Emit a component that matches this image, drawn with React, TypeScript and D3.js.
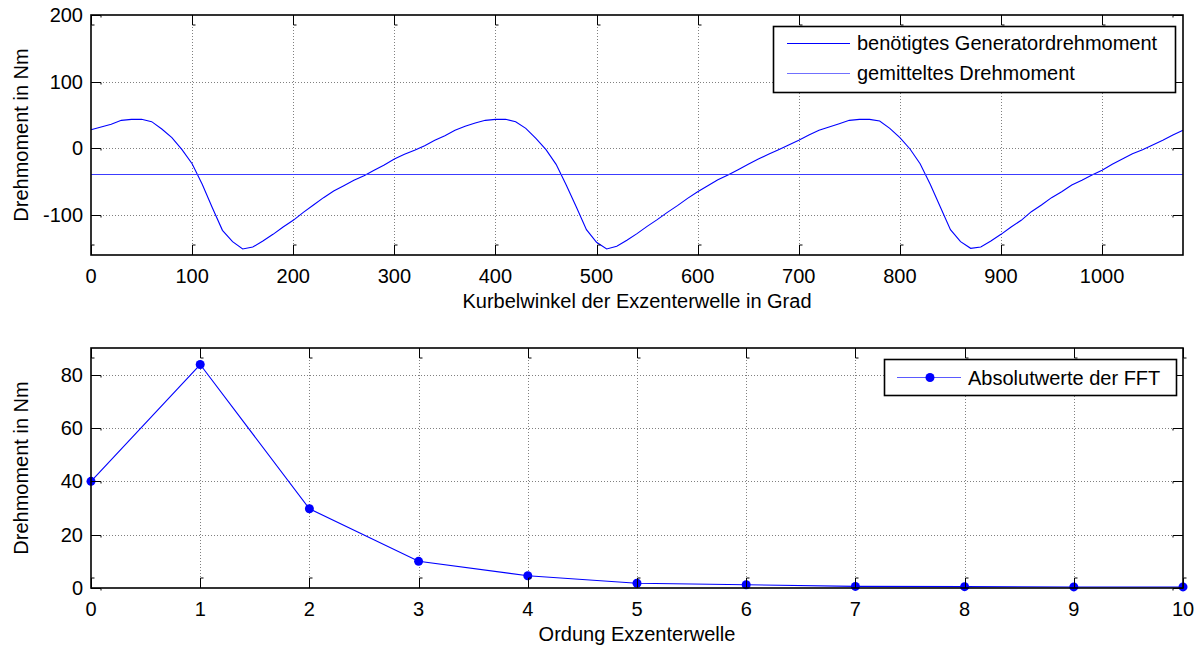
import React from "react";
import * as d3 from "d3";

// Kurbelwinkel in 10-Grad-Schritten, 0..1080
const angleStep = 10;
const torque = [
  28, 32, 36, 42, 43.5, 43.5, 40, 29, 16, -2, -23, -54, -89, -123, -140, -151, -148, -139,
  -129, -118, -108, -96, -85, -74, -64, -56, -48, -41, -33, -25, -16, -9, -3, 4, 12, 19,
  27, 33, 38, 42, 43.5, 43.5, 40, 30, 15, -2, -24, -55, -88, -122, -141, -151, -147, -138,
  -128, -117, -107, -96, -86, -75, -65, -56, -47, -40, -32, -24, -16, -9, -2, 5, 12, 20,
  27, 32, 37, 42, 43.5, 43.5, 41, 30, 16, -1, -23, -54, -88, -122, -140, -150, -148, -139,
  -129, -118, -108, -95, -85, -74, -65, -55, -48, -40, -33, -24, -16, -8, -2, 5, 12, 20, 27,
];
const meanTorque = -38;

const orders = [0, 1, 2, 3, 4, 5, 6, 7, 8, 9, 10];
const fftAbs = [40, 83.8, 29.7, 10, 4.6, 1.8, 1.2, 0.6, 0.5, 0.4, 0.4];

const topXTicks = [0, 100, 200, 300, 400, 500, 600, 700, 800, 900, 1000];
const topYTicks = [-100, 0, 100, 200];
const botXTicks = [0, 1, 2, 3, 4, 5, 6, 7, 8, 9, 10];
const botYTicks = [0, 20, 40, 60, 80];

const legendTop = ["benötigtes Generatordrehmoment", "gemitteltes Drehmoment"];
const legendBottom = "Absolutwerte der FFT";

const FONT = "'Liberation Sans', Arial, Helvetica, sans-serif";
const L = 91;
const R = 1183;

const x1 = d3.scaleLinear().domain([0, 1080]).range([L, R]);
const y1 = d3.scaleLinear().domain([-160, 200]).range([255, 15]);
const x2 = d3.scaleLinear().domain([0, 10]).range([L, R]);
const y2 = d3.scaleLinear().domain([0, 90]).range([588, 348]);

const px = (v: number) => Math.round(v) + 0.5;

function Axes({ xs, ys, xTicks, yTicks, xTitle, yTitle }: any) {
  const [t, b] = [ys.range()[1], ys.range()[0]];
  const yMid = (t + b) / 2;
  return (
    <g>
      {/* grid */}
      {xTicks
        .filter((d: number) => xs(d) > L + 1 && xs(d) < R - 1)
        .map((d: number) => (
          <line key={"gx" + d} x1={px(xs(d))} x2={px(xs(d))} y1={t} y2={b}
            stroke="#808080" strokeWidth={1} strokeDasharray="1,2" />
        ))}
      {yTicks
        .filter((d: number) => ys(d) > t + 1 && ys(d) < b - 1)
        .map((d: number) => (
          <line key={"gy" + d} x1={L} x2={R} y1={px(ys(d))} y2={px(ys(d))}
            stroke="#808080" strokeWidth={1} strokeDasharray="1,2" />
        ))}
      {/* tick labels */}
      {xTicks.map((d: number) => (
        <text key={"tx" + d} x={xs(d)} y={b + 28} textAnchor="middle" fontSize={20} fontFamily={FONT}>
          {d}
        </text>
      ))}
      {yTicks.map((d: number) => (
        <text key={"ty" + d} x={83} y={ys(d) + 7} textAnchor="end" fontSize={20} fontFamily={FONT}>
          {d}
        </text>
      ))}
      <text x={(L + R) / 2} y={b + 53} textAnchor="middle" fontSize={20} fontFamily={FONT}>
        {xTitle}
      </text>
      <text transform={`translate(28,${yMid}) rotate(-90)`} textAnchor="middle" fontSize={20} fontFamily={FONT}>
        {yTitle}
      </text>
    </g>
  );
}

function Frame({ xs, ys, xTicks, yTicks }: any) {
  const [t, b] = [ys.range()[1], ys.range()[0]];
  const tl = 10;
  return (
    <g stroke="#000" fill="none">
      {xTicks.map((d: number) => {
        const x = px(xs(d));
        return (
          <g key={"k" + d} strokeWidth={1}>
            <path d={`M${x},${b} V${b - tl} h3`} />
            <path d={`M${x},${t} V${t + tl} h3`} />
          </g>
        );
      })}
      {yTicks.map((d: number) => {
        const y = px(ys(d));
        return (
          <g key={"j" + d} strokeWidth={1}>
            <path d={`M${L},${y} H${L + tl} v2`} />
            <path d={`M${R},${y} H${R - tl} v2`} />
          </g>
        );
      })}
      <rect x={L} y={t} width={R - L} height={b - t} strokeWidth={1.6} />
    </g>
  );
}

export default function App() {
  const curve = d3
    .line<number>()
    .x((_, i) => x1(i * angleStep))
    .y((d) => y1(d));
  const fftLine = d3
    .line<number>()
    .x((_, i) => x2(orders[i]))
    .y((d) => y2(d));

  return (
    <svg width={1200} height={646} style={{ position: "absolute", left: 0, top: 0, background: "#fff" }}>
      <rect width={1200} height={646} fill="#fff" />

      {/* oberes Diagramm */}
      <Axes xs={x1} ys={y1} xTicks={topXTicks} yTicks={topYTicks}
        xTitle="Kurbelwinkel der Exzenterwelle in Grad" yTitle="Drehmoment in Nm" />
      <path d={curve(torque) || ""} fill="none" stroke="#0000ff" strokeWidth={1.1} />
      <line x1={x1(0)} x2={x1(1080)} y1={px(y1(meanTorque))} y2={px(y1(meanTorque))}
        stroke="#3c3cff" strokeWidth={1} />
      <Frame xs={x1} ys={y1} xTicks={topXTicks} yTicks={topYTicks} />

      <g>
        <rect x={773.5} y={26.5} width={402} height={66} fill="#fff" stroke="#000" strokeWidth={1.6} />
        <line x1={787} x2={850} y1={43.5} y2={43.5} stroke="#0000ff" strokeWidth={1} />
        <line x1={787} x2={850} y1={73.5} y2={73.5} stroke="#7070ff" strokeWidth={1} />
        {legendTop.map((s, i) => (
          <text key={s} x={857} y={50 + i * 30} fontSize={20} fontFamily={FONT}>
            {s}
          </text>
        ))}
      </g>

      {/* unteres Diagramm */}
      <Axes xs={x2} ys={y2} xTicks={botXTicks} yTicks={botYTicks}
        xTitle="Ordung Exzenterwelle" yTitle="Drehmoment in Nm" />
      <path d={fftLine(fftAbs) || ""} fill="none" stroke="#0000ff" strokeWidth={1.1} />
      {fftAbs.map((d, i) => (
        <circle key={i} cx={x2(orders[i])} cy={y2(d)} r={4.5} fill="#0000ff" />
      ))}
      <Frame xs={x2} ys={y2} xTicks={botXTicks} yTicks={botYTicks} />

      <g>
        <rect x={884.5} y={359.5} width={292} height={36} fill="#fff" stroke="#000" strokeWidth={1.6} />
        <line x1={897} x2={961} y1={377.5} y2={377.5} stroke="#5a5aff" strokeWidth={1} />
        <circle cx={930} cy={377.5} r={4.5} fill="#0000ff" />
        <text x={968} y={384.5} fontSize={20} fontFamily={FONT}>
          {legendBottom}
        </text>
      </g>
    </svg>
  );
}
